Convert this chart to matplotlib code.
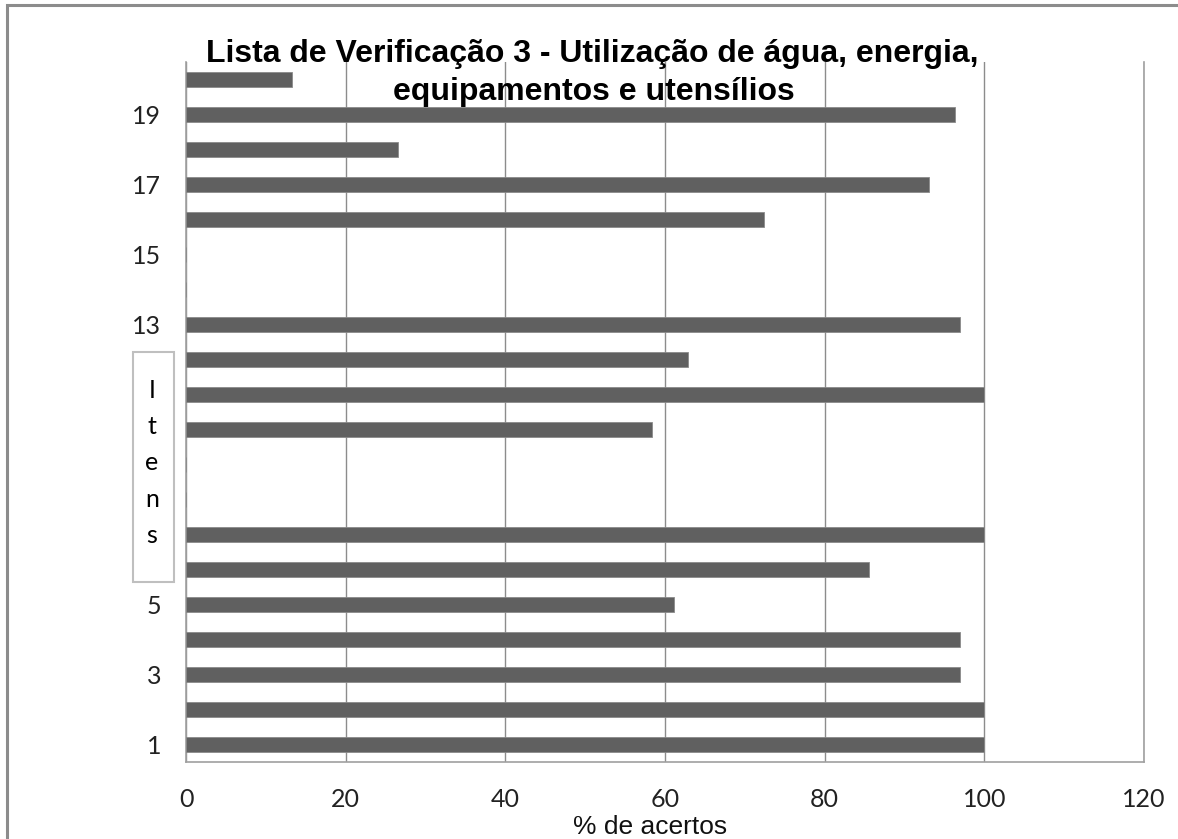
import matplotlib
matplotlib.use("Agg")
import matplotlib.pyplot as plt
from matplotlib.patches import Rectangle

# ---- data ----
items = list(range(1, 21))
acertos = [100, 100, 97.0, 97.0, 61.1, 85.5, 100, 0, 0, 58.4,
           100, 62.9, 97.0, 0, 0, 72.4, 93.1, 26.6, 96.3, 13.3]
ytick_vals = [1, 3, 5, 7, 9, 11, 13, 15, 17, 19]
# labels 7, 9 and 11 are hidden behind the "Itens" box in the original
ytick_labels = ["1", "3", "5", "", "", "", "13", "15", "17", "19"]
xtick_vals = [0, 20, 40, 60, 80, 100, 120]
title_l1 = "Lista de Verificação 3 - Utilização de água, energia,"
title_l2 = "equipamentos e utensílios"
xlabel = "% de acertos"
ylabel = "Itens"

W, H = 1178, 839
fig = plt.figure(figsize=(W / 100, H / 100), dpi=100)
fig.patch.set_facecolor("white")

ax = fig.add_axes([186 / W, 1 - 762 / H, (1144 - 186) / W, (762 - 62) / H])
ax.barh(items, acertos, height=0.43, color="#606060", edgecolor="#8a8a8a",
        linewidth=0.6, zorder=3)
ax.set_xlim(0, 120)
ax.set_ylim(0.49, 20.49)
ax.set_xticks(xtick_vals)
ax.set_yticks(ytick_vals)
tick_font = ["Lato", "DejaVu Sans"]
ax.set_xticklabels([str(v) for v in xtick_vals], family=tick_font, fontsize=18, color="#222222")
ax.set_yticklabels(ytick_labels, family=tick_font, fontsize=18, color="#222222")
ax.tick_params(axis="both", length=0)
ax.tick_params(axis="x", pad=19)
ax.tick_params(axis="y", pad=18)
ax.xaxis.grid(True, color="#8c8c8c", linewidth=1.0, zorder=0)
ax.set_axisbelow(True)
ax.spines["top"].set_visible(False)
for s in ["left", "bottom", "right"]:
    ax.spines[s].set_color("#a0a0a0")
    ax.spines[s].set_linewidth(1.2)

# title
title_font = ["Liberation Sans", "DejaVu Sans"]
fig.text(592 / W, 1 - 62 / H, title_l1, ha="center", va="baseline",
         fontsize=23, fontweight="bold", family=title_font, color="black")
fig.text(594 / W, 1 - 100 / H, title_l2, ha="center", va="baseline",
         fontsize=23, fontweight="bold", family=title_font, color="black")

# x label
fig.text(650 / W, 1 - 834 / H, xlabel, ha="center", va="baseline",
         fontsize=19, family=["Liberation Sans", "DejaVu Sans"], color="#111111")

# y label box
box = Rectangle((133 / W, 1 - 582 / H), (174 - 133) / W, (582 - 352) / H,
                transform=fig.transFigure, facecolor="white", edgecolor="#bfbfbf",
                linewidth=1.5, zorder=10)
fig.add_artist(box)
fig.text(152 / W, 1 - 463 / H, "\n".join(ylabel), ha="center", va="center",
         fontsize=18, family=tick_font, color="black", linespacing=1.7, zorder=11)

# outer border
border = Rectangle((7 / W, -0.1), 1.2, 1 - 5 / H + 0.1, transform=fig.transFigure,
                   facecolor="none", edgecolor="#8c8c8c", linewidth=2.2, zorder=12)
fig.add_artist(border)

fig.savefig("out.png", dpi=100, facecolor="white")
